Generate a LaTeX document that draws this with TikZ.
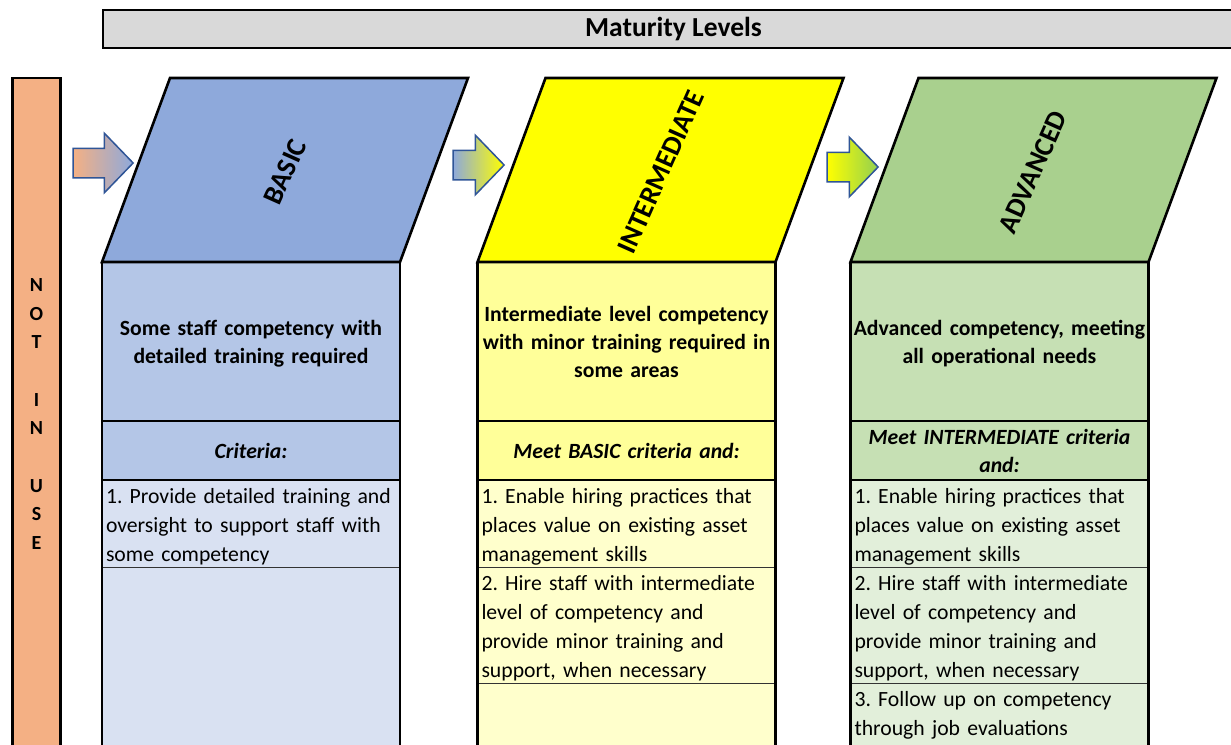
\documentclass[tikz,border=0pt]{standalone}
\usepackage{fontspec}
\setmainfont{Carlito}
\usetikzlibrary{shapes.arrows}
\pgfdeclarelayer{edgelayer}
\pgfdeclarelayer{nodelayer}
\pgfsetlayers{nodelayer,main,edgelayer}
\frenchspacing
\hyphenpenalty=10000
\exhyphenpenalty=10000
\definecolor{basicdark}{HTML}{8EA9DB}
\definecolor{basicmid}{HTML}{B4C6E7}
\definecolor{basiclight}{HTML}{D9E1F2}
\definecolor{interdark}{HTML}{FFFF00}
\definecolor{intermid}{HTML}{FFFF99}
\definecolor{interlight}{HTML}{FFFFCC}
\definecolor{advdark}{HTML}{A9D08E}
\definecolor{advmid}{HTML}{C6E0B4}
\definecolor{advlight}{HTML}{E2EFDA}
\definecolor{notuse}{HTML}{F4B084}
\definecolor{bannergrey}{HTML}{D9D9D9}
\definecolor{arrowedge}{HTML}{2F5597}
\definecolor{arrowgreen}{HTML}{92D050}
\newcommand{\headstrut}{\rule{0pt}{21.6pt}}
\newcommand{\footstrut}{\rule[-6.4pt]{0pt}{6.4pt}}
\newcommand{\itemtop}{\rule{0pt}{23pt}}
\newcommand{\itembottom}{\rule[-6pt]{0pt}{6pt}}
\tikzstyle{banner}=[rectangle,draw=black,line width=2.6pt,fill=bannergrey,minimum width=1141pt,minimum height=38pt,font=\fontsize{27.5}{30}\selectfont\bfseries]
\tikzstyle{notinuse}=[rectangle,draw=black,line width=2.6pt,fill=notuse,minimum width=48pt,minimum height=672pt,inner sep=0pt,align=center,font=\fontsize{20}{28.7}\selectfont\bfseries]
\tikzstyle{cell}=[rectangle,inner ysep=0pt,outer sep=0pt,minimum width=298pt]
\tikzstyle{title}=[cell,inner xsep=2pt,text width=294pt,align=center,font=\fontsize{21.7}{28}\selectfont\bfseries,execute at begin node=\headstrut,execute at end node=\footstrut]
\tikzstyle{criteria}=[title,font=\fontsize{21.7}{28}\selectfont\bfseries\itshape]
\tikzstyle{item}=[cell,inner xsep=4pt,text width=290pt,align=left,font=\fontsize{21.7}{29}\selectfont,execute at begin node=\itemtop,execute at end node=\itembottom]
\tikzstyle{level}=[draw=black,line width=2.6pt,line join=miter]
\tikzstyle{levelname}=[rotate=66,font=\fontsize{28}{30}\selectfont\bfseries]
\tikzstyle{progress}=[single arrow,draw=arrowedge,line width=1.5pt,inner xsep=0pt,inner ysep=14pt,single arrow head extend=15pt,single arrow tip angle=92]
\tikzstyle{rule}=[draw=black,line width=2.6pt]
\tikzstyle{thinrule}=[draw=black!80,line width=1pt]

\begin{document}
\begin{tikzpicture}[x=1pt,y=-1pt]
	\useasboundingbox (0,0) rectangle (1231,744);
	\begin{pgfonlayer}{nodelayer}
		\node [style=banner] (0) at (673.5, 29) {Maturity Levels};
		\node [style=notinuse] (1) at (36.5, 414) {N\\O\\T\\~\\I\\N\\~\\U\\S\\E};
		\node [style=title, fill=basicmid, minimum height=159pt] (6) at (251, 341.5) {Some staff competency with\\detailed training required};
		\node [style=criteria, fill=basicmid, minimum height=59pt] (7) at (251, 450.5) {Criteria:};
		\node [style=item, fill=basiclight, minimum height=87pt] (8) at (251, 523.5) {1. Provide detailed training and\\oversight to support staff with\\some competency};
		\node [style=cell, fill=basiclight, minimum height=183pt] (9) at (251, 658.5) {};
		\node [style=title, fill=intermid, minimum height=159pt] (11) at (626.5, 341.5) {Intermediate level competency\\with minor training required in\\some areas};
		\node [style=criteria, fill=intermid, minimum height=59pt] (12) at (626.5, 450.5) {Meet BASIC criteria and:};
		\node [style=item, fill=interlight, minimum height=87pt] (13) at (626.5, 523.5) {1. Enable hiring practices that\\places value on existing asset\\management skills};
		\node [style=item, fill=interlight, minimum height=116pt] (14) at (626.5, 625) {2. Hire staff with intermediate\\level of competency and\\provide minor training and\\support, when necessary};
		\node [style=cell, fill=interlight, minimum height=67pt] (15) at (626.5, 716.5) {};
		\node [style=title, fill=advmid, minimum height=159pt] (17) at (999.5, 341.5) {Advanced competency, meeting\\all operational needs};
		\node [style=criteria, fill=advmid, minimum height=59pt] (18) at (999.5, 450.5) {Meet INTERMEDIATE criteria\\and:};
		\node [style=item, fill=advlight, minimum height=87pt] (19) at (999.5, 523.5) {1. Enable hiring practices that\\places value on existing asset\\management skills};
		\node [style=item, fill=advlight, minimum height=116pt] (20) at (999.5, 625) {2. Hire staff with intermediate\\level of competency and\\provide minor training and\\support, when necessary};
		\node [style=item, fill=advlight, minimum height=67pt, text depth=44pt] (21) at (999.5, 716.5) {3. Follow up on competency\\through job evaluations};
	\end{pgfonlayer}
	\node [style=progress, minimum height=60pt, left color=notuse, right color=basicdark] (2) at (96, 163) {};
	\node [style=progress, minimum height=51pt, left color=basicdark, right color=interdark] (3) at (471.5, 165) {};
	\node [style=progress, minimum height=51pt, left color=interdark, right color=arrowgreen] (4) at (845.5, 167) {};
	\draw [style=level, fill=basicdark] (6.north west) -- (6.north east) -- ++(68,-184) -- ++(-298,0) -- cycle;
	\draw [style=level, fill=interdark] (11.north west) -- (11.north east) -- ++(68,-184) -- ++(-298,0) -- cycle;
	\draw [style=level, fill=advdark] (17.north west) -- (17.north east) -- ++(68,-184) -- ++(-298,0) -- cycle;
	\node [style=levelname] (5) at (285, 172) {BASIC};
	\node [style=levelname] (10) at (661, 172) {INTERMEDIATE};
	\node [style=levelname] (16) at (1033, 172) {ADVANCED};
	\begin{pgfonlayer}{edgelayer}
		\draw [style=rule] (7.north west) -- (7.north east);
		\draw [style=rule] (8.north west) -- (8.north east);
		\draw [style=thinrule] (9.north west) -- (9.north east);
		\draw [style=rule] (6.north west) -- (9.south west);
		\draw [style=rule] (6.north east) -- (9.south east);
		\draw [style=rule] (12.north west) -- (12.north east);
		\draw [style=rule] (13.north west) -- (13.north east);
		\draw [style=thinrule] (14.north west) -- (14.north east);
		\draw [style=thinrule] (15.north west) -- (15.north east);
		\draw [style=rule] (11.north west) -- (15.south west);
		\draw [style=rule] (11.north east) -- (15.south east);
		\draw [style=rule] (18.north west) -- (18.north east);
		\draw [style=rule] (19.north west) -- (19.north east);
		\draw [style=thinrule] (20.north west) -- (20.north east);
		\draw [style=thinrule] (21.north west) -- (21.north east);
		\draw [style=rule] (17.north west) -- (21.south west);
		\draw [style=rule] (17.north east) -- (21.south east);
	\end{pgfonlayer}
\end{tikzpicture}
\end{document}
